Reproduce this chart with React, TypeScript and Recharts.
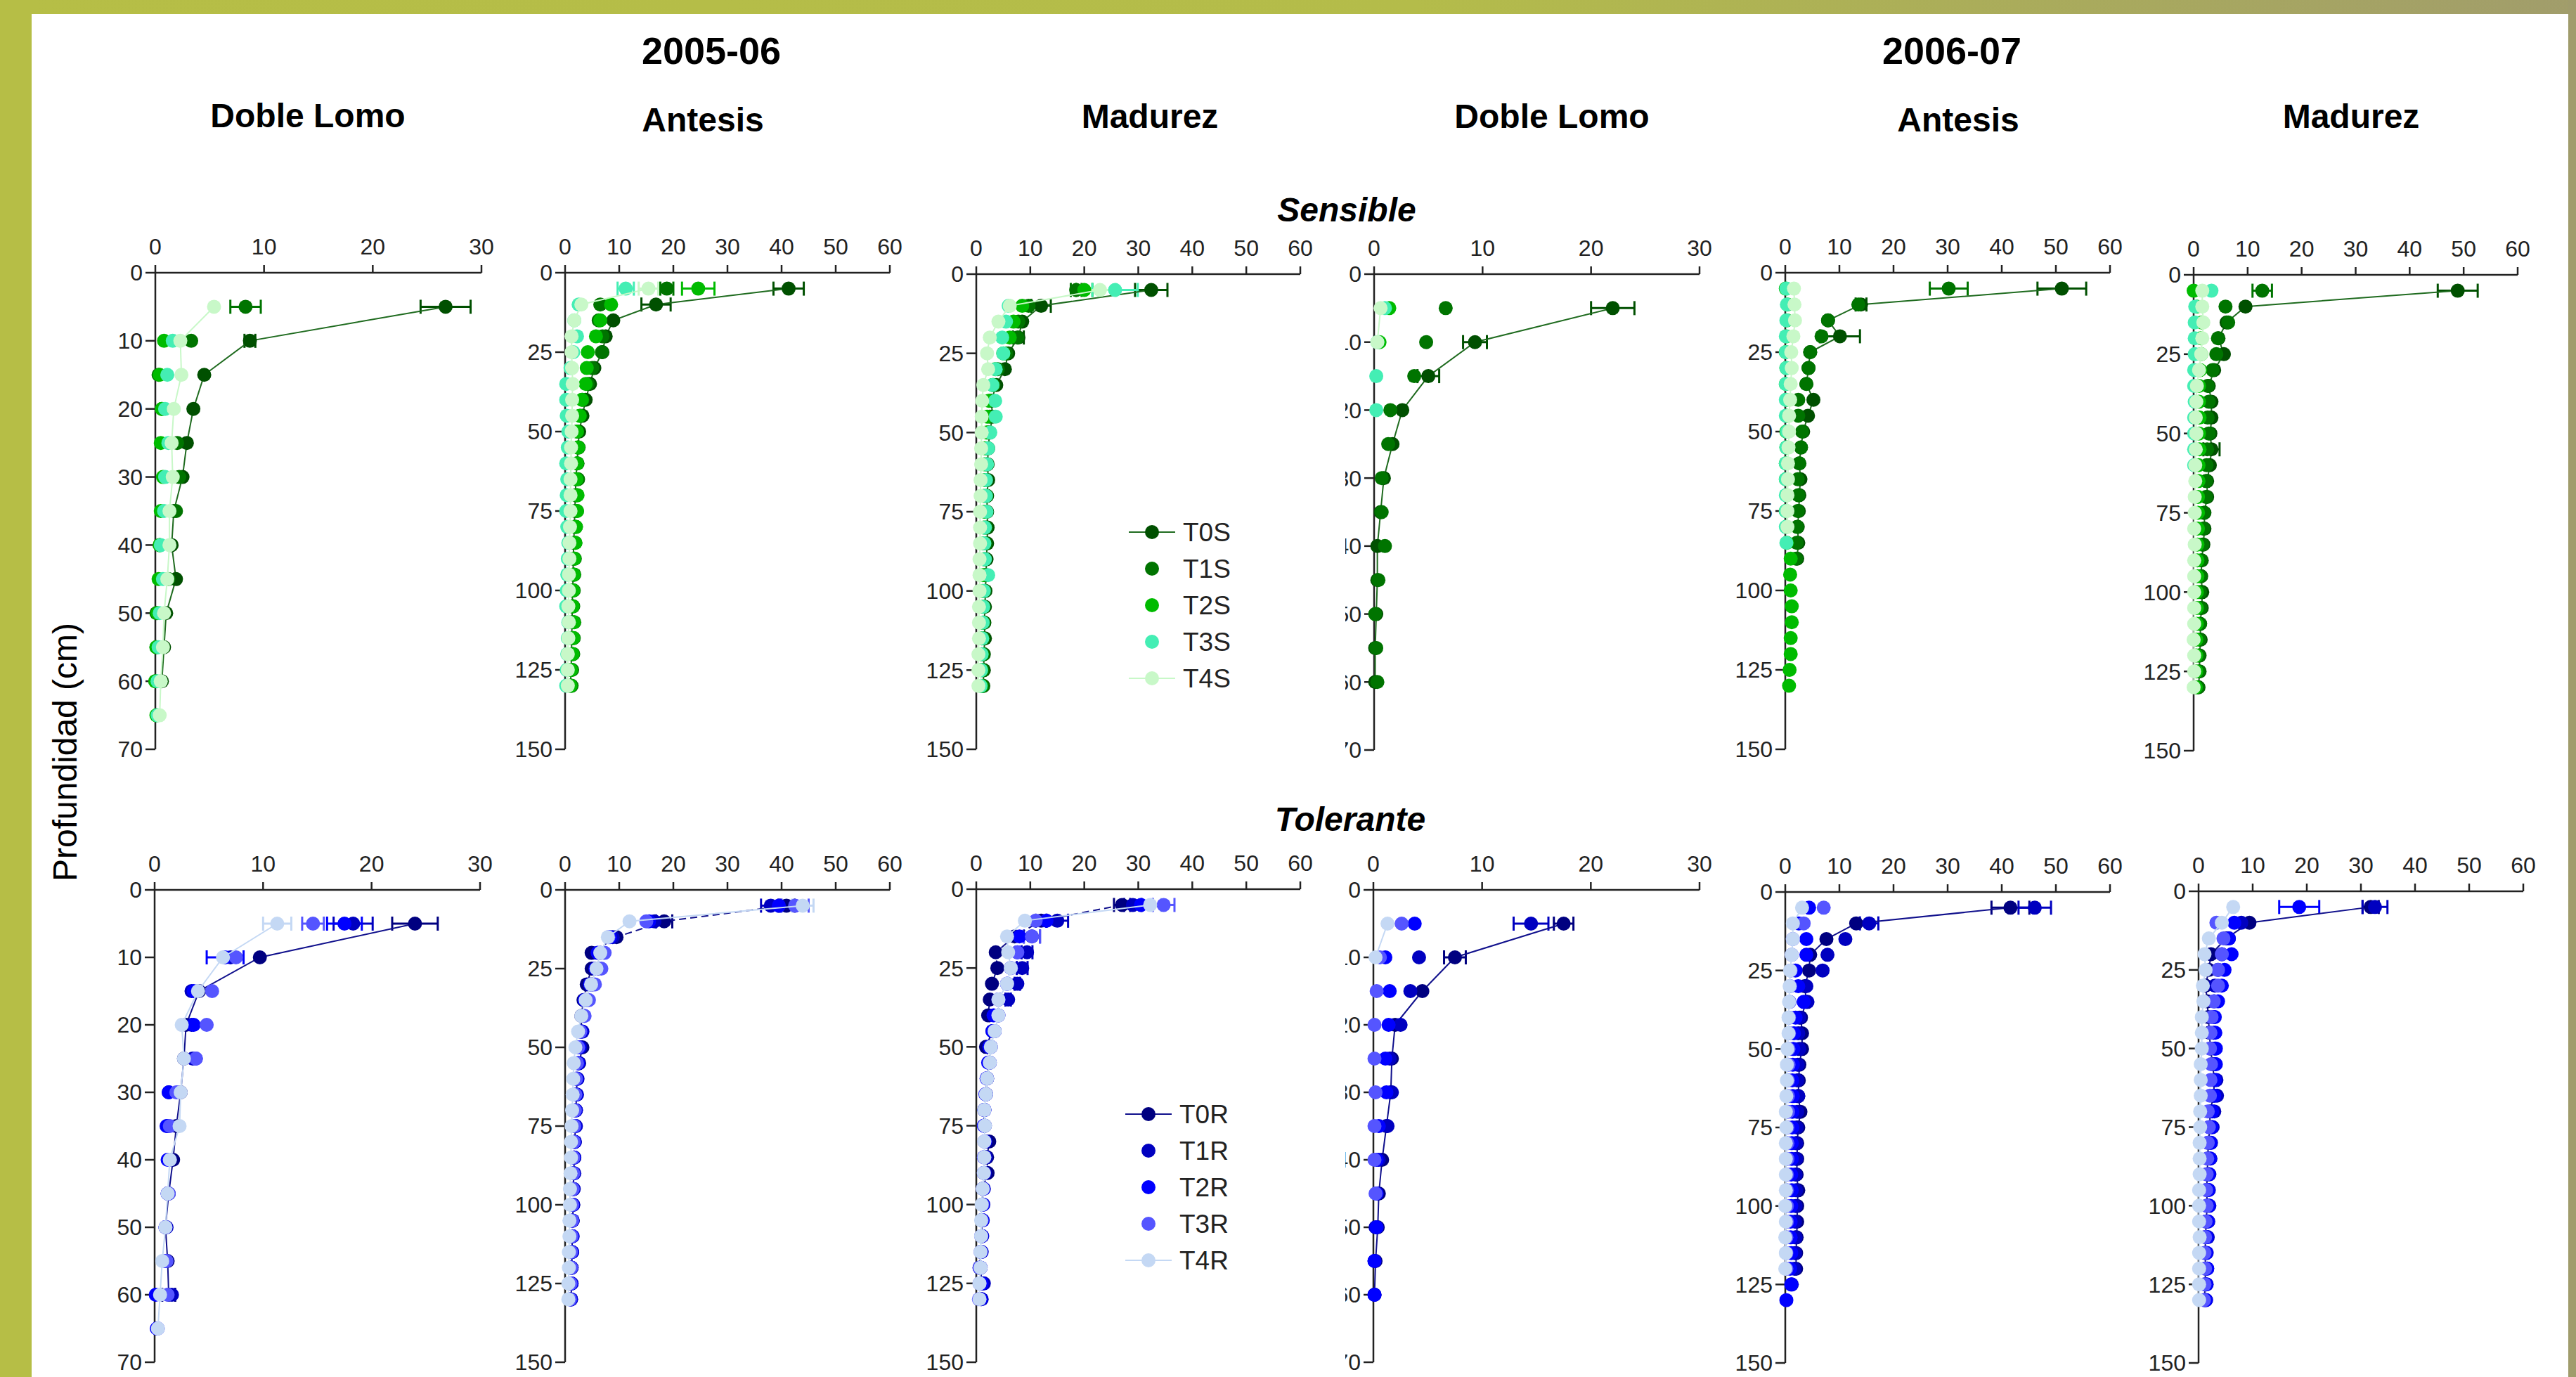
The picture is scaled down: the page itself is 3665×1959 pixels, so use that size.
import React from 'react';
import { ScatterChart, Scatter, XAxis, YAxis, ErrorBar } from 'recharts';

// depth steps (cm)
const DEPTH_SHORT = [5, 10, 15, 20, 25, 30, 35, 40, 45, 50, 55, 60, 65];
const DEPTH_LONG = [5, 10, 15, 20, 25, 30, 35, 40, 45, 50, 55, 60, 65, 70, 75, 80, 85, 90, 95, 100, 105, 110, 115, 120, 125, 130];

const X_TICKS_30 = [0, 10, 20, 30];
const X_TICKS_60 = [0, 10, 20, 30, 40, 50, 60];
const Y_TICKS_70 = [0, 10, 20, 30, 40, 50, 60, 70];
const Y_TICKS_150 = [0, 25, 50, 75, 100, 125, 150];

const NAMES_S = ['T0S', 'T1S', 'T2S', 'T3S', 'T4S'];
const NAMES_R = ['T0R', 'T1R', 'T2R', 'T3R', 'T4R'];

// ---- 2005-06 Doble Lomo, Sensible
const DL05S_0 = [26.7, 8.7, 4.5, 3.5, 2.9, 2.5, 1.7, 1.5, 1.9, 1.0, 0.8, 0.6, null];
const DL05S_0E = [2.3, 0.5];
const DL05S_1 = [8.3, 3.3, 0.3, 0.6, 2.0, 2.2, 1.9, 0.4, 1.2, 0.1, 0.1, 0, null];
const DL05S_1E = [1.4];
const DL05S_2 = [null, 0.8, 0.4, 0.6, 0.5, 0.7, 0.5, 0.4, 0.3, 0.2, 0.1, 0, 0.1];
const DL05S_3 = [null, 1.6, 1.1, 0.9, 1.2, 0.9, 0.8, 0.5, 0.7, 0.4, 0.3, 0.2, 0.2];
const DL05S_4 = [5.4, 2.3, 2.4, 1.7, 1.5, 1.6, 1.3, 1.3, 1.1, 0.8, 0.7, 0.5, 0.4];

// ---- 2005-06 Antesis, Sensible
const AN05S_0 = [41.3, 16.8, 8.9, 7.5, 6.9, 5.4, 4.6, 3.8, 3.2, 2.6, 2.4, 2.2, 2.0, 1.9, 1.8, 1.7, 1.6, 1.5, 1.5, 1.4, 1.3, 1.3, 1.2, 1.2, 1.1, 1.0];
const AN05S_0E = [2.8, 2.7];
const AN05S_1 = [18.8, 6.5, 6.2, 6.9, 6.8, 5.0, 4.2, 3.2, 2.8, 2.2, 2.5, 2.3, 2.4, 2.2, 2.2, 2.0, 1.9, 1.8, 1.7, 1.6, 1.5, 1.7, 1.6, 1.5, 1.3, 1.2];
const AN05S_1E = [1.2];
const AN05S_2 = [24.6, 8.5, 6.5, 5.7, 4.2, 4.0, 3.8, 3.1, 2.7, 2.2, 2.4, 2.2, 2.1, 2.3, 2.2, 2.0, 1.9, 1.7, 1.6, 1.5, 1.4, 1.6, 1.5, 1.4, 1.1, 1.0];
const AN05S_2E = [3.0];
const AN05S_3 = [11.2, 2.5, 1.7, 2.2, 1.5, 1.0, 0.2, 0.2, 0.3, 0.6, 0.5, 0.2, 0.4, 0.3, 0.2, 0.4, 0.6, 0.5, 0.4, 0.3, 0.2, 0.6, 0.5, 0.4, 0.3, 0.2];
const AN05S_3E = [1.5];
const AN05S_4 = [15.4, 3.0, 1.7, 1.2, 1.2, 1.3, 1.4, 1.3, 1.3, 1.2, 1.1, 1.1, 1.0, 1.0, 1.0, 0.9, 0.8, 0.8, 0.7, 0.7, 0.6, 0.7, 0.6, 0.5, 0.5, 0.5];
const AN05S_4E = [1.8];

// ---- 2005-06 Madurez, Sensible
const MA05S_0 = [32.4, 12.0, 8.5, 7.8, 5.9, 5.3, 3.7, 2.8, 3.0, 2.5, 2.2, 2.1, 2.2, 2.0, 2.0, 2.1, 2.0, 1.9, 1.8, 1.7, 1.6, 1.5, 1.6, 1.4, 1.4, 1.3];
const MA05S_0E = [3.0, 1.8, 0, 1.0];
const MA05S_1 = [18.5, 9.7, 7.8, 7.6, 5.5, 4.0, 3.2, 2.5, 2.5, 2.2, 2.0, 1.9, 1.8, 1.9, 1.8, 1.8, 1.7, 1.6, 1.6, 1.5, 1.4, 1.4, 1.3, 1.3, 1.2, 1.2];
const MA05S_1E = [1.0];
const MA05S_2 = [20.0, 8.5, 6.9, 6.2, 5.0, 3.5, 3.0, 2.3, 2.0, 1.9, 1.6, 1.5, 1.6, 1.4, 1.5, 1.4, 1.3, 1.4, 1.2, 1.1, 1.2, 1.1, 1.0, 1.0, 0.9, 0.9];
const MA05S_2E = [1.5];
const MA05S_3 = [25.7, 6.0, 5.5, 4.8, 5.0, 3.6, 3.0, 3.5, 3.6, 2.6, 2.2, 2.0, 1.8, 1.8, 1.9, 1.6, 1.5, 1.6, 2.2, 1.4, 1.3, 1.2, 1.1, 1.0, 0.9, 0.8];
const MA05S_3E = [4.2];
const MA05S_4 = [22.9, 6.2, 4.1, 2.5, 2.0, 2.2, 1.3, 1.1, 1.0, 1.0, 0.9, 0.9, 0.8, 0.8, 0.7, 0.7, 0.7, 0.6, 0.6, 0.6, 0.5, 0.5, 0.5, 0.4, 0.4, 0.4];
const MA05S_4E = [3.0];

// ---- 2006-07 Doble Lomo, Sensible
const DL06S_0 = [22.0, 9.3, 5.0, 2.6, 1.7, 0.9, 0.6, 0.3, 0.3, 0.2, 0.1, 0.1, null];
const DL06S_0E = [2.0, 1.1, 1.0];
const DL06S_1 = [6.6, 4.8, 3.7, 1.5, 1.3, 0.7, 0.7, 1.0, 0.4, 0.1, 0.2, 0.3, null];
const DL06S_2 = [1.4, 0.5, null, null, null, null, null, null, null, null, null, null, null];
const DL06S_3 = [1.0, 0.3, 0.2, 0.2, null, null, null, null, null, null, null, null, null];
const DL06S_4 = [0.6, 0.3, null, null, null, null, null, null, null, null, null, null, null];

// ---- 2006-07 Antesis, Sensible
const AN06S_0 = [51.1, 14.0, 7.9, 10.1, 4.6, 4.3, 3.9, 5.2, 4.2, 3.3, 2.9, 2.6, 2.8, 2.6, 2.5, 2.3, 2.4, 2.2, null, null, null, null, null, null, null, null];
const AN06S_0E = [4.5, 1.0, 0, 3.7];
const AN06S_1 = [30.2, 13.5, 7.9, 6.7, 4.6, 4.3, 3.9, 2.4, 2.4, 3.1, 2.9, 2.6, 2.3, 2.4, 2.3, 2.2, 2.1, 2.0, null, null, null, null, null, null, null, null];
const AN06S_1E = [3.5];
const AN06S_2 = [0.1, 0.4, 0.3, 0.2, 0.1, 0.2, 0.1, 0.2, 0.3, 0.2, 0.2, 0.1, 0.1, 0.2, 0.1, 0.2, 0.3, 1.0, 0.9, 1.0, 1.2, 1.2, 1.0, 1.0, 0.8, 0.7];
const AN06S_3 = [0.2, 0.3, 0.2, 0.1, 0.1, 0.2, 0.1, 0.1, 0.1, 0.3, 0.2, 0.1, 0.1, 0.1, 0.1, 0.1, 0.2, null, null, null, null, null, null, null, null, null];
const AN06S_4 = [1.6, 1.7, 1.8, 1.5, 1.1, 1.2, 1.0, 0.9, 0.7, 0.7, 0.6, 0.5, 0.5, 0.4, 0.4, 0.4, null, null, null, null, null, null, null, null, null, null];

// ---- 2006-07 Madurez, Sensible
const MA06S_0 = [48.9, 9.6, 6.1, 4.6, 5.6, 3.8, 2.8, 3.3, 3.3, 3.1, 3.3, 3.0, 2.5, 2.5, 2.0, 2.0, 1.8, 1.5, 1.4, 1.6, 1.5, 1.2, 1.3, 1.1, 1.1, 0.9];
const MA06S_0E = [3.7, 0, 0, 0, 0, 0, 0, 0, 0, 0, 1.5];
const MA06S_1 = [12.7, 5.9, 6.4, 4.5, 4.2, 3.5, 2.6, 2.8, 2.6, 2.8, 2.5, 2.4, 2.3, 2.3, 1.9, 1.8, 1.6, 1.4, 1.3, 1.2, 1.3, 1.2, 1.1, 1.0, 1.0, 0.8];
const MA06S_1E = [1.8];
const MA06S_2 = [0, 0.6, 1.5, 1.3, 1.4, 1.2, 1.0, 1.0, 1.1, 1.0, 1.1, 0.9, 0.9, 0.8, 0.8, 0.8, 0.7, 0.7, 0.7, 0.6, 0.6, 0.6, 0.5, 0.5, 0.5, 0.4];
const MA06S_3 = [3.3, 0.3, 0.2, 0.2, 0.2, 0.1, 0.1, 0.2, 0.1, 0.1, 0.1, 0.1, null, null, null, null, null, null, null, null, null, null, null, null, null, null];
const MA06S_4 = [1.6, 1.6, 1.8, 1.6, 1.4, 1.0, 0.6, 0.5, 0.4, 0.5, 0.4, 0.3, 0.3, 0.2, 0.2, 0.1, 0.2, 0.1, 0.1, 0.1, 0.1, 0.1, 0, 0.1, 0.1, 0];

// ---- 2005-06 Doble Lomo, Tolerante
const DL05R_0 = [24.0, 9.7, 4.1, 2.9, 2.7, 2.4, 2.0, 1.7, 1.3, 1.0, 1.2, 1.3, null];
const DL05R_0E = [2.1, 0, 0, 0, 0, 0, 0, 0, 0, 0, 0, 0.6];
const DL05R_1 = [18.3, 7.0, 3.4, 3.4, 3.5, 1.3, 1.2, 1.4, 1.2, 1.1, 1.0, 1.6, null];
const DL05R_1E = [1.8];
const DL05R_2 = [17.5, 6.5, 3.6, 3.6, 3.8, 1.3, 1.1, 1.2, 1.2, 1.0, 1.0, 0.1, 0.2];
const DL05R_2E = [1.6, 1.7];
const DL05R_3 = [14.6, 7.5, 5.3, 4.8, 3.8, 2.0, 1.4, 1.4, 1.3, 1.0, 1.1, 1.2, 0.3];
const DL05R_3E = [1.0];
const DL05R_4 = [11.3, 6.3, 4.0, 2.5, 2.7, 2.4, 2.3, 1.4, 1.2, 1.0, 0.7, 0.5, 0.3];
const DL05R_4E = [1.3];

// ---- 2005-06 Antesis, Tolerante
const AN05R_0 = [40.9, 18.3, 9.5, 4.9, 4.9, 4.0, 3.4, 3.0, 3.0, 3.2, 2.6, 2.2, 2.1, 2.0, 1.9, 1.8, 1.7, 1.6, 1.5, 1.5, 1.4, 1.3, 1.3, 1.2, 1.2, 1.1];
const AN05R_0E = [1.5, 1.5];
const AN05R_1 = [38.0, 16.5, 8.8, 6.5, 6.0, 5.0, 4.0, 3.5, 3.2, 2.8, 2.5, 2.3, 2.2, 2.0, 2.0, 1.8, 1.7, 1.7, 1.6, 1.5, 1.4, 1.4, 1.3, 1.2, 1.2, 1.1];
const AN05R_1E = [1.8];
const AN05R_2 = [39.5, 15.5, 8.3, 6.0, 5.6, 4.6, 3.6, 3.2, 2.9, 2.6, 2.4, 2.1, 2.0, 1.9, 1.8, 1.7, 1.6, 1.5, 1.4, 1.4, 1.3, 1.3, 1.2, 1.1, 1.1, 1.0];
const AN05R_3 = [42.5, 15.0, 8.0, 7.3, 6.7, 5.5, 4.4, 3.6, 2.8, 2.4, 2.2, 2.0, 1.9, 1.8, 1.7, 1.6, 1.5, 1.5, 1.4, 1.3, 1.3, 1.2, 1.1, 1.1, 1.0, 0.9];
const AN05R_3E = [2.5];
const AN05R_4 = [43.9, 11.9, 7.9, 6.5, 5.8, 4.8, 3.8, 3.0, 2.4, 1.9, 1.6, 1.5, 1.4, 1.3, 1.2, 1.1, 1.1, 1.0, 0.9, 0.9, 0.8, 0.8, 0.7, 0.7, 0.6, 0.6];
const AN05R_4E = [2.0];

// ---- 2005-06 Madurez, Tolerante
const MA05R_0 = [27.0, 12.0, 7.1, 3.6, 3.9, 2.9, 2.5, 2.2, 3.0, 1.8, 2.4, 2.0, 1.8, 1.5, 1.5, 2.4, 2.0, 2.1, 1.2, 1.1, 1.0, 1.0, 0.9, 0.6, 1.2, 0.9];
const MA05R_0E = [1.5, 1.0];
const MA05R_1 = [29.0, 15.0, 10.3, 9.4, 8.5, 7.6, 5.9, 4.1, 3.4, 2.7, 2.5, 2.0, 1.8, 1.5, 1.6, 1.7, 1.8, 1.6, 1.4, 1.3, 1.2, 1.1, 1.0, 0.8, 1.4, 1.0];
const MA05R_1E = [1.6, 2.0, 1.5, 1.0, 1.0, 0.5, 0.5];
const MA05R_2 = [30.5, 13.0, 8.0, 7.6, 6.4, 5.7, 4.1, 3.2, 3.0, 2.4, 2.2, 1.9, 1.7, 1.5, 1.4, 1.6, 1.5, 1.4, 1.3, 1.2, 1.1, 1.0, 0.9, 0.8, 1.0, 0.8];
const MA05R_3 = [34.7, 11.0, 10.3, 7.6, 6.4, 5.7, 4.1, 4.1, 3.4, 2.7, 2.5, 2.0, 1.8, 1.5, 1.5, 1.5, 1.4, 1.4, 1.2, 1.1, 1.0, 0.9, 0.8, 0.6, 0.6, 0.5];
const MA05R_3E = [2.0, 0, 1.5];
const MA05R_4 = [32.2, 9.0, 5.7, 5.9, 6.4, 5.7, 4.1, 4.1, 3.4, 2.7, 2.5, 2.0, 1.8, 1.5, 1.6, 1.5, 1.5, 1.4, 1.2, 1.0, 0.9, 0.9, 0.8, 0.8, 0.6, 0.6];
const MA05R_4E = [2.0];

// ---- 2006-07 Doble Lomo, Tolerante
const DL06R_0 = [17.5, 7.5, 4.5, 2.0, 1.7, 1.6, 1.2, 0.8, 0.5, 0.4, 0.2, 0.1, null];
const DL06R_0E = [0.9, 1.0];
const DL06R_1 = [14.5, 4.2, 3.4, 2.5, 1.5, 1.7, 1.3, 0.5, 0.3, 0.2, 0.1, 0.1, null];
const DL06R_1E = [1.6];
const DL06R_2 = [3.8, 1.1, 1.5, 1.4, 1.1, 1.2, 0.5, 0.3, 0.3, 0.3, 0.1, 0.1, null];
const DL06R_3 = [2.6, 0.6, 0.3, 0.1, 0.1, 0.2, 0.1, 0.1, 0.2, null, null, null, null];
const DL06R_4 = [1.3, 0.2, null, null, null, null, null, null, null, null, null, null, null];

// ---- 2006-07 Antesis, Tolerante
const AN06R_0 = [41.6, 13.1, 7.6, 4.6, 4.4, 3.6, 3.9, 2.9, 3.1, 3.1, 2.6, 2.5, 2.4, 2.8, 2.4, 2.2, 2.2, 2.1, 2.4, 2.2, 2.2, 2.1, 2.0, 2.0, null, null];
const AN06R_0E = [3.5];
const AN06R_1 = [46.1, 15.5, 11.1, 7.8, 6.9, 3.9, 4.1, 2.6, 2.4, 2.6, 2.3, 2.2, 2.4, 2.2, 2.1, 2.0, 2.0, 1.9, 2.0, 1.9, 1.8, 1.9, 1.8, 1.7, 1.2, null];
const AN06R_1E = [3.0, 1.7];
const AN06R_2 = [4.4, 2.5, 3.9, 3.9, 1.9, 2.4, 3.4, 1.9, 1.6, 1.5, 1.4, 1.3, 1.4, 1.3, 1.3, 1.2, 1.2, 1.1, 1.2, 1.1, 1.0, 1.0, 1.1, 0.9, 1.1, 0.2];
const AN06R_3 = [7.1, 3.4, 1.4, 1.2, 1.0, 0.9, 0.8, 0.7, 0.7, 0.6, 0.6, 0.5, 0.5, 0.5, 0.4, 0.4, 0.4, 0.3, 0.3, 0.3, 0.3, 0.2, 0.2, 0.2, null, null];
const AN06R_4 = [3.1, 1.4, 1.4, 1.2, 0.9, 0.8, 0.7, 0.6, 0.6, 0.4, 0.3, 0.3, 0.2, 0.1, 0.2, 0.1, 0.1, 0.1, 0.1, 0, 0.1, 0, 0.1, 0, null, null];

// ---- 2006-07 Madurez, Tolerante
const MA06R_0 = [31.8, 9.4, 5.1, 2.3, 1.9, 1.3, 1.6, 1.8, 2.0, 2.2, 2.6, 2.9, 2.8, 2.1, 2.1, 1.8, 1.7, 1.6, 1.5, 1.6, 1.4, 1.3, 1.2, 1.3, 1.2, 1.1];
const MA06R_0E = [1.5];
const MA06R_1 = [32.6, 7.9, 5.6, 4.3, 3.6, 3.0, 2.9, 2.8, 2.8, 3.0, 3.1, 3.3, 3.4, 2.9, 2.6, 2.3, 2.2, 2.0, 1.9, 2.0, 1.8, 1.7, 1.5, 1.6, 1.5, 1.4];
const MA06R_1E = [2.3];
const MA06R_2 = [18.6, 6.6, 5.6, 6.1, 4.8, 4.3, 3.6, 3.0, 3.1, 3.2, 3.2, 3.0, 2.9, 2.5, 2.4, 2.2, 2.1, 1.9, 1.8, 1.9, 1.7, 1.5, 1.4, 1.6, 1.4, 1.3];
const MA06R_2E = [3.7];
const MA06R_3 = [null, 3.3, 4.6, 4.3, 3.6, 3.6, 2.8, 2.4, 2.2, 2.1, 2.3, 2.2, 2.1, 1.7, 1.9, 1.7, 1.6, 1.5, 1.4, 1.5, 1.3, 1.2, 1.1, 1.2, 1.1, 1.0];
const MA06R_4 = [6.4, 4.3, 1.9, 1.1, 1.3, 0.8, 0.9, 0.6, 0.6, 0.6, 0.4, 0.4, 0.4, 0.3, 0.3, 0.2, 0.2, 0.2, 0.1, 0.1, 0.1, 0.2, 0.1, 0.1, 0.1, 0.1];

const GREENS = ['#005000', '#007400', '#00bb00', '#44eeb4', '#c8f8c8'];
const GREEN_LINES = ['#1f6b1f', '#c8f8c8'];
const BLUES = ['#000080', '#0000c0', '#0000ff', '#5555ff', '#c4d8f4'];
const BLUE_LINES = ['#10108c', '#c4d8f4'];

const INK = '#222';
const FONT = '"Liberation Sans", Arial, sans-serif';
const YW = 80;   // y axis width
const XH = 60;   // x axis height
const RM = 30;
const BM = 20;

type Pt = { d: number; v: number; e: number };

function rows(depths: number[], vals: (number | null)[], errs: number[] = []): Pt[] {
    const out: Pt[] = [];
    depths.forEach((d, i) => {
        const v = vals[i];
        if (v != null) out.push({ d, v, e: errs[i] ?? 0 });
    });
    return out;
}

type PanelProps = {
    box: [number, number, number, number];
    long: boolean;
    series: Pt[][];
    colors: string[];
    lines: string[];
    dash?: boolean;
};

function Panel({ box, long, series, colors, lines, dash }: PanelProps) {
    const [x0, x1, y0, y1] = box;
    const w = x1 - x0 + YW + RM;
    const h = y1 - y0 + XH + BM;
    const tick = { fill: INK, fontSize: 32, fontFamily: FONT };
    return (
        <div style={{ position: 'absolute', left: x0 - YW, top: y0 - XH, width: w, height: h }}>
            <ScatterChart width={w} height={h} margin={{ top: 0, left: 0, right: RM, bottom: BM }}>
                <XAxis
                    type="number"
                    dataKey="v"
                    orientation="top"
                    domain={[0, long ? 60 : 30]}
                    ticks={long ? X_TICKS_60 : X_TICKS_30}
                    interval={0}
                    height={XH}
                    axisLine={{ stroke: INK, strokeWidth: 2.5 }}
                    tickLine={{ stroke: INK, strokeWidth: 2.5 }}
                    tickSize={11}
                    tickMargin={15}
                    tick={tick}
                />
                <YAxis
                    type="number"
                    dataKey="d"
                    reversed
                    domain={[0, long ? 150 : 70]}
                    ticks={long ? Y_TICKS_150 : Y_TICKS_70}
                    interval={0}
                    width={YW}
                    axisLine={{ stroke: INK, strokeWidth: 2.5 }}
                    tickLine={{ stroke: INK, strokeWidth: 2.5 }}
                    tickSize={14}
                    tickMargin={4}
                    tick={tick}
                />
                {series.map((data, i) => {
                    const lineColor = i === 0 ? lines[0] : i === 4 ? lines[1] : null;
                    return (
                        <Scatter
                            key={i}
                            data={data}
                            isAnimationActive={false}
                            fill={colors[i]}
                            line={lineColor ? { stroke: lineColor, strokeWidth: 2, strokeDasharray: dash && i === 0 ? '10 6' : undefined } : false}
                            shape={(p: any) => <circle cx={p.cx} cy={p.cy} r={10} fill={colors[i]} />}
                        >
                            <ErrorBar dataKey="e" direction="x" width={10} strokeWidth={3} stroke={colors[i]} />
                        </Scatter>
                    );
                })}
            </ScatterChart>
        </div>
    );
}

const PANELS: PanelProps[] = [
    { box: [221, 685, 388, 1066], long: false, colors: GREENS, lines: GREEN_LINES, series: [
        rows(DEPTH_SHORT, DL05S_0, DL05S_0E), rows(DEPTH_SHORT, DL05S_1, DL05S_1E), rows(DEPTH_SHORT, DL05S_2),
        rows(DEPTH_SHORT, DL05S_3), rows(DEPTH_SHORT, DL05S_4)] },
    { box: [804, 1266, 388, 1066], long: true, colors: GREENS, lines: GREEN_LINES, series: [
        rows(DEPTH_LONG, AN05S_0, AN05S_0E), rows(DEPTH_LONG, AN05S_1, AN05S_1E), rows(DEPTH_LONG, AN05S_2, AN05S_2E),
        rows(DEPTH_LONG, AN05S_3, AN05S_3E), rows(DEPTH_LONG, AN05S_4, AN05S_4E)] },
    { box: [1389, 1850, 390, 1066], long: true, colors: GREENS, lines: GREEN_LINES, series: [
        rows(DEPTH_LONG, MA05S_0, MA05S_0E), rows(DEPTH_LONG, MA05S_1, MA05S_1E), rows(DEPTH_LONG, MA05S_2, MA05S_2E),
        rows(DEPTH_LONG, MA05S_3, MA05S_3E), rows(DEPTH_LONG, MA05S_4, MA05S_4E)] },
    { box: [1955, 2418, 390, 1067], long: false, colors: GREENS, lines: GREEN_LINES, series: [
        rows(DEPTH_SHORT, DL06S_0, DL06S_0E), rows(DEPTH_SHORT, DL06S_1), rows(DEPTH_SHORT, DL06S_2),
        rows(DEPTH_SHORT, DL06S_3), rows(DEPTH_SHORT, DL06S_4)] },
    { box: [2540, 3002, 388, 1066], long: true, colors: GREENS, lines: GREEN_LINES, series: [
        rows(DEPTH_LONG, AN06S_0, AN06S_0E), rows(DEPTH_LONG, AN06S_1, AN06S_1E), rows(DEPTH_LONG, AN06S_2),
        rows(DEPTH_LONG, AN06S_3), rows(DEPTH_LONG, AN06S_4)] },
    { box: [3121, 3582, 391, 1068], long: true, colors: GREENS, lines: GREEN_LINES, series: [
        rows(DEPTH_LONG, MA06S_0, MA06S_0E), rows(DEPTH_LONG, MA06S_1, MA06S_1E), rows(DEPTH_LONG, MA06S_2),
        rows(DEPTH_LONG, MA06S_3), rows(DEPTH_LONG, MA06S_4)] },
    { box: [220, 683, 1266, 1938], long: false, colors: BLUES, lines: BLUE_LINES, series: [
        rows(DEPTH_SHORT, DL05R_0, DL05R_0E), rows(DEPTH_SHORT, DL05R_1, DL05R_1E), rows(DEPTH_SHORT, DL05R_2, DL05R_2E),
        rows(DEPTH_SHORT, DL05R_3, DL05R_3E), rows(DEPTH_SHORT, DL05R_4, DL05R_4E)] },
    { box: [804, 1266, 1266, 1938], long: true, colors: BLUES, lines: BLUE_LINES, dash: true, series: [
        rows(DEPTH_LONG, AN05R_0, AN05R_0E), rows(DEPTH_LONG, AN05R_1, AN05R_1E), rows(DEPTH_LONG, AN05R_2),
        rows(DEPTH_LONG, AN05R_3, AN05R_3E), rows(DEPTH_LONG, AN05R_4, AN05R_4E)] },
    { box: [1389, 1850, 1265, 1938], long: true, colors: BLUES, lines: BLUE_LINES, dash: true, series: [
        rows(DEPTH_LONG, MA05R_0, MA05R_0E), rows(DEPTH_LONG, MA05R_1, MA05R_1E), rows(DEPTH_LONG, MA05R_2),
        rows(DEPTH_LONG, MA05R_3, MA05R_3E), rows(DEPTH_LONG, MA05R_4, MA05R_4E)] },
    { box: [1954, 2418, 1266, 1938], long: false, colors: BLUES, lines: BLUE_LINES, series: [
        rows(DEPTH_SHORT, DL06R_0, DL06R_0E), rows(DEPTH_SHORT, DL06R_1, DL06R_1E), rows(DEPTH_SHORT, DL06R_2),
        rows(DEPTH_SHORT, DL06R_3), rows(DEPTH_SHORT, DL06R_4)] },
    { box: [2540, 3002, 1269, 1939], long: true, colors: BLUES, lines: BLUE_LINES, series: [
        rows(DEPTH_LONG, AN06R_0, AN06R_0E), rows(DEPTH_LONG, AN06R_1, AN06R_1E), rows(DEPTH_LONG, AN06R_2),
        rows(DEPTH_LONG, AN06R_3), rows(DEPTH_LONG, AN06R_4)] },
    { box: [3128, 3590, 1268, 1939], long: true, colors: BLUES, lines: BLUE_LINES, series: [
        rows(DEPTH_LONG, MA06R_0, MA06R_0E), rows(DEPTH_LONG, MA06R_1, MA06R_1E), rows(DEPTH_LONG, MA06R_2, MA06R_2E),
        rows(DEPTH_LONG, MA06R_3), rows(DEPTH_LONG, MA06R_4)] },
];

const TITLES = [
    { text: '2005-06', x: 1012, y: 72, size: 54, italic: false },
    { text: '2006-07', x: 2777, y: 72, size: 54, italic: false },
    { text: 'Doble Lomo', x: 438, y: 165, size: 48, italic: false },
    { text: 'Antesis', x: 1000, y: 171, size: 48, italic: false },
    { text: 'Madurez', x: 1636, y: 166, size: 48, italic: false },
    { text: 'Doble Lomo', x: 2208, y: 166, size: 48, italic: false },
    { text: 'Antesis', x: 2786, y: 171, size: 48, italic: false },
    { text: 'Madurez', x: 3345, y: 166, size: 48, italic: false },
    { text: 'Sensible', x: 1916, y: 299, size: 48, italic: true },
    { text: 'Tolerante', x: 1921, y: 1166, size: 48, italic: true },
];

function Legend({ left, top, names, colors, lines }: { left: number; top: number; names: string[]; colors: string[]; lines: string[] }) {
    return (
        <div style={{ position: 'absolute', left, top }}>
            {names.map((n, i) => {
                const lc = i === 0 ? lines[0] : i === 4 ? lines[1] : null;
                return (
                    <div key={n} style={{ position: 'absolute', left: 0, top: i * 52 - 20, height: 40, display: 'flex', alignItems: 'center', whiteSpace: 'nowrap' }}>
                        <svg width={66} height={30}>
                            {lc && <line x1={0} y1={15} x2={66} y2={15} stroke={lc} strokeWidth={2} />}
                            <circle cx={33} cy={15} r={10} fill={colors[i]} />
                        </svg>
                        <span style={{ marginLeft: 11, fontSize: 37, fontFamily: FONT, color: INK, lineHeight: 1 }}>{n}</span>
                    </div>
                );
            })}
        </div>
    );
}

export default function App() {
    return (
        <div style={{ position: 'absolute', left: 0, top: 0, width: 3665, height: 1959, background: '#fff', overflow: 'hidden' }}>
            <div style={{ position: 'absolute', left: 0, top: 0, width: 3665, height: 20, background: 'linear-gradient(to right, #b6be46 0%, #b4bc4a 55%, #a19d6b 100%)' }} />
            <div style={{ position: 'absolute', left: 0, top: 0, width: 45, height: 1959, background: '#b6be46' }} />
            <div style={{ position: 'absolute', left: 3654, top: 0, width: 11, height: 1959, background: '#a09c6c' }} />

            {TITLES.map((t, i) => (
                <div key={i} style={{
                    position: 'absolute', left: t.x, top: t.y, transform: 'translate(-50%, -50%)',
                    fontFamily: FONT, fontWeight: 'bold', fontStyle: t.italic ? 'italic' : 'normal',
                    fontSize: t.size, lineHeight: 1, whiteSpace: 'nowrap', color: '#000'
                }}>{t.text}</div>
            ))}

            <div style={{
                position: 'absolute', left: 93, top: 1070, transform: 'translate(-50%, -50%) rotate(-90deg)',
                fontFamily: FONT, fontSize: 48, lineHeight: 1, whiteSpace: 'nowrap', color: '#000'
            }}>Profundidad (cm)</div>

            {PANELS.map((p, i) => <Panel key={i} {...p} />)}

            {/* the Doble Lomo 2006-07 depth labels are cut on the left in the original */}
            <div style={{ position: 'absolute', left: 1872, top: 372, width: 42, height: 720, background: '#fff' }} />
            <div style={{ position: 'absolute', left: 1872, top: 1246, width: 42, height: 713, background: '#fff' }} />

            <Legend left={1606} top={757} names={NAMES_S} colors={GREENS} lines={GREEN_LINES} />
            <Legend left={1601} top={1585} names={NAMES_R} colors={BLUES} lines={BLUE_LINES} />
        </div>
    );
}
